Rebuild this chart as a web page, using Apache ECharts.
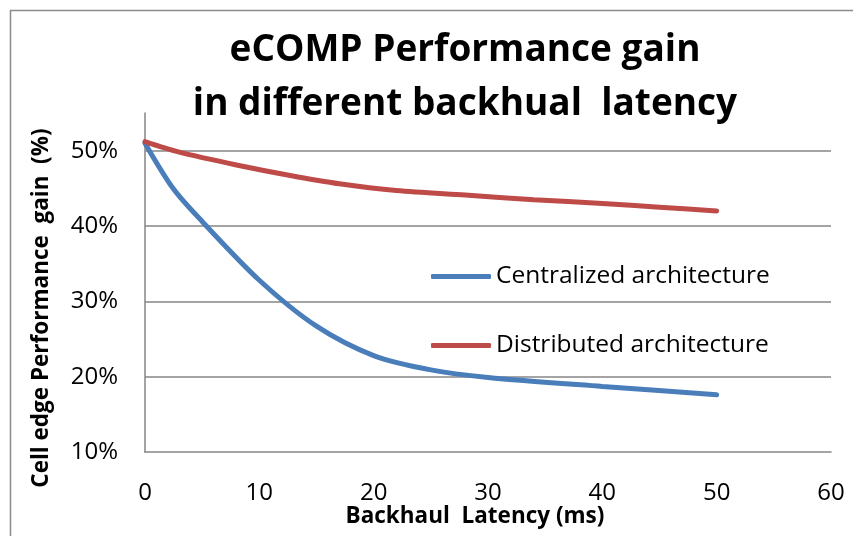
<!DOCTYPE html>
<html>
<head>
<meta charset="utf-8">
<script src="https://cdn.jsdelivr.net/npm/echarts@6/dist/echarts.min.js"></script>
<style>
html,body{margin:0;padding:0;background:#fff;}
#chart{width:853px;height:536px;}
</style>
</head>
<body>
<div id="chart"></div>
<script>
const titleLines = ['eCOMP Performance gain', 'in different backhual  latency'];
const xAxisName = 'Backhaul  Latency (ms)';
const yAxisName = 'Cell edge Performance  gain  (%)';
const seriesNames = ['Centralized architecture', 'Distributed architecture'];
const xTicks = [0, 10, 20, 30, 40, 50, 60];
const yTicks = [10, 20, 30, 40, 50];
const centralized = [
  [0, 51.0], [2.5, 44.9], [5, 40.6], [10, 32.8], [15, 26.7],
  [20, 22.8], [25, 20.9], [30, 19.9], [40, 18.7], [50, 17.6]
];
const distributed = [
  [0, 51.2], [3, 49.8], [8, 48.1], [12.7, 46.7], [17, 45.6], [22, 44.7], [28, 44.1],
  [34, 43.5], [40, 43.0], [45, 42.5], [50, 42.0]
];

const font = "'Open Sans', 'Noto Sans', sans-serif";
const chart = echarts.init(document.getElementById('chart'), null, {renderer: 'canvas'});
chart.setOption({
  animation: false,
  backgroundColor: '#ffffff',
  graphic: [
    {type: 'rect', left: 8, top: 8, silent: true, z: 0,
     shape: {width: 900, height: 600},
     style: {fill: 'none', stroke: '#8c8c8c', lineWidth: 1.5}},
    {type: 'text', x: 465, y: 50, silent: true,
     style: {text: titleLines[0], fontFamily: font, fontWeight: 'bold', fontSize: 37, fill: '#000',
       align: 'center', verticalAlign: 'middle'}},
    {type: 'text', x: 465, y: 104, silent: true,
     style: {text: titleLines[1], fontFamily: font, fontWeight: 'bold', fontSize: 37, fill: '#000',
       align: 'center', verticalAlign: 'middle'}},
    {type: 'text', x: 475, y: 517, silent: true,
     style: {text: xAxisName, fontFamily: font, fontWeight: 'bold', fontSize: 22.5, fill: '#000',
       align: 'center', verticalAlign: 'middle'}},
    {type: 'text', x: 42, y: 308, rotation: Math.PI / 2, silent: true,
     style: {text: yAxisName, fontFamily: font, fontWeight: 'bold', fontSize: 22.5, fill: '#000',
       align: 'center', verticalAlign: 'middle'}}
  ],
  legend: {
    orient: 'vertical',
    left: 426, top: 259,
    itemWidth: 60, itemHeight: 5,
    itemGap: 44,
    icon: 'roundRect',
    textStyle: {fontFamily: font, fontSize: 24.5, color: '#000'},
    data: seriesNames
  },
  grid: {left: 145, right: 22, top: 113, bottom: 84, containLabel: false},
  xAxis: {
    type: 'value', min: xTicks[0], max: xTicks[xTicks.length - 1], interval: 10,
    axisLine: {show: true, lineStyle: {color: '#868686', width: 1.5}},
    axisTick: {show: false},
    splitLine: {show: false},
    axisLabel: {fontFamily: font, fontSize: 24, color: '#000', margin: 29}
  },
  yAxis: {
    type: 'value', min: yTicks[0], max: 55, interval: 10,
    axisLine: {show: true, lineStyle: {color: '#868686', width: 1.5}},
    axisTick: {show: false},
    splitLine: {show: true, showMinLine: false, showMaxLine: false, lineStyle: {color: '#868686', width: 1.5}},
    axisLabel: {fontFamily: font, fontSize: 24, color: '#000', margin: 27, showMaxLabel: false,
      formatter: v => v + '%'}
  },
  series: [
    {name: seriesNames[0], type: 'line', data: centralized, smooth: 0.3, showSymbol: false, symbol: 'none',
     lineStyle: {width: 5, color: '#4a7ebb', cap: 'round'}, itemStyle: {color: '#4a7ebb'}},
    {name: seriesNames[1], type: 'line', data: distributed, smooth: 0.3, showSymbol: false, symbol: 'none',
     lineStyle: {width: 5, color: '#be4b48', cap: 'round'}, itemStyle: {color: '#be4b48'}}
  ]
});
</script>
</body>
</html>
